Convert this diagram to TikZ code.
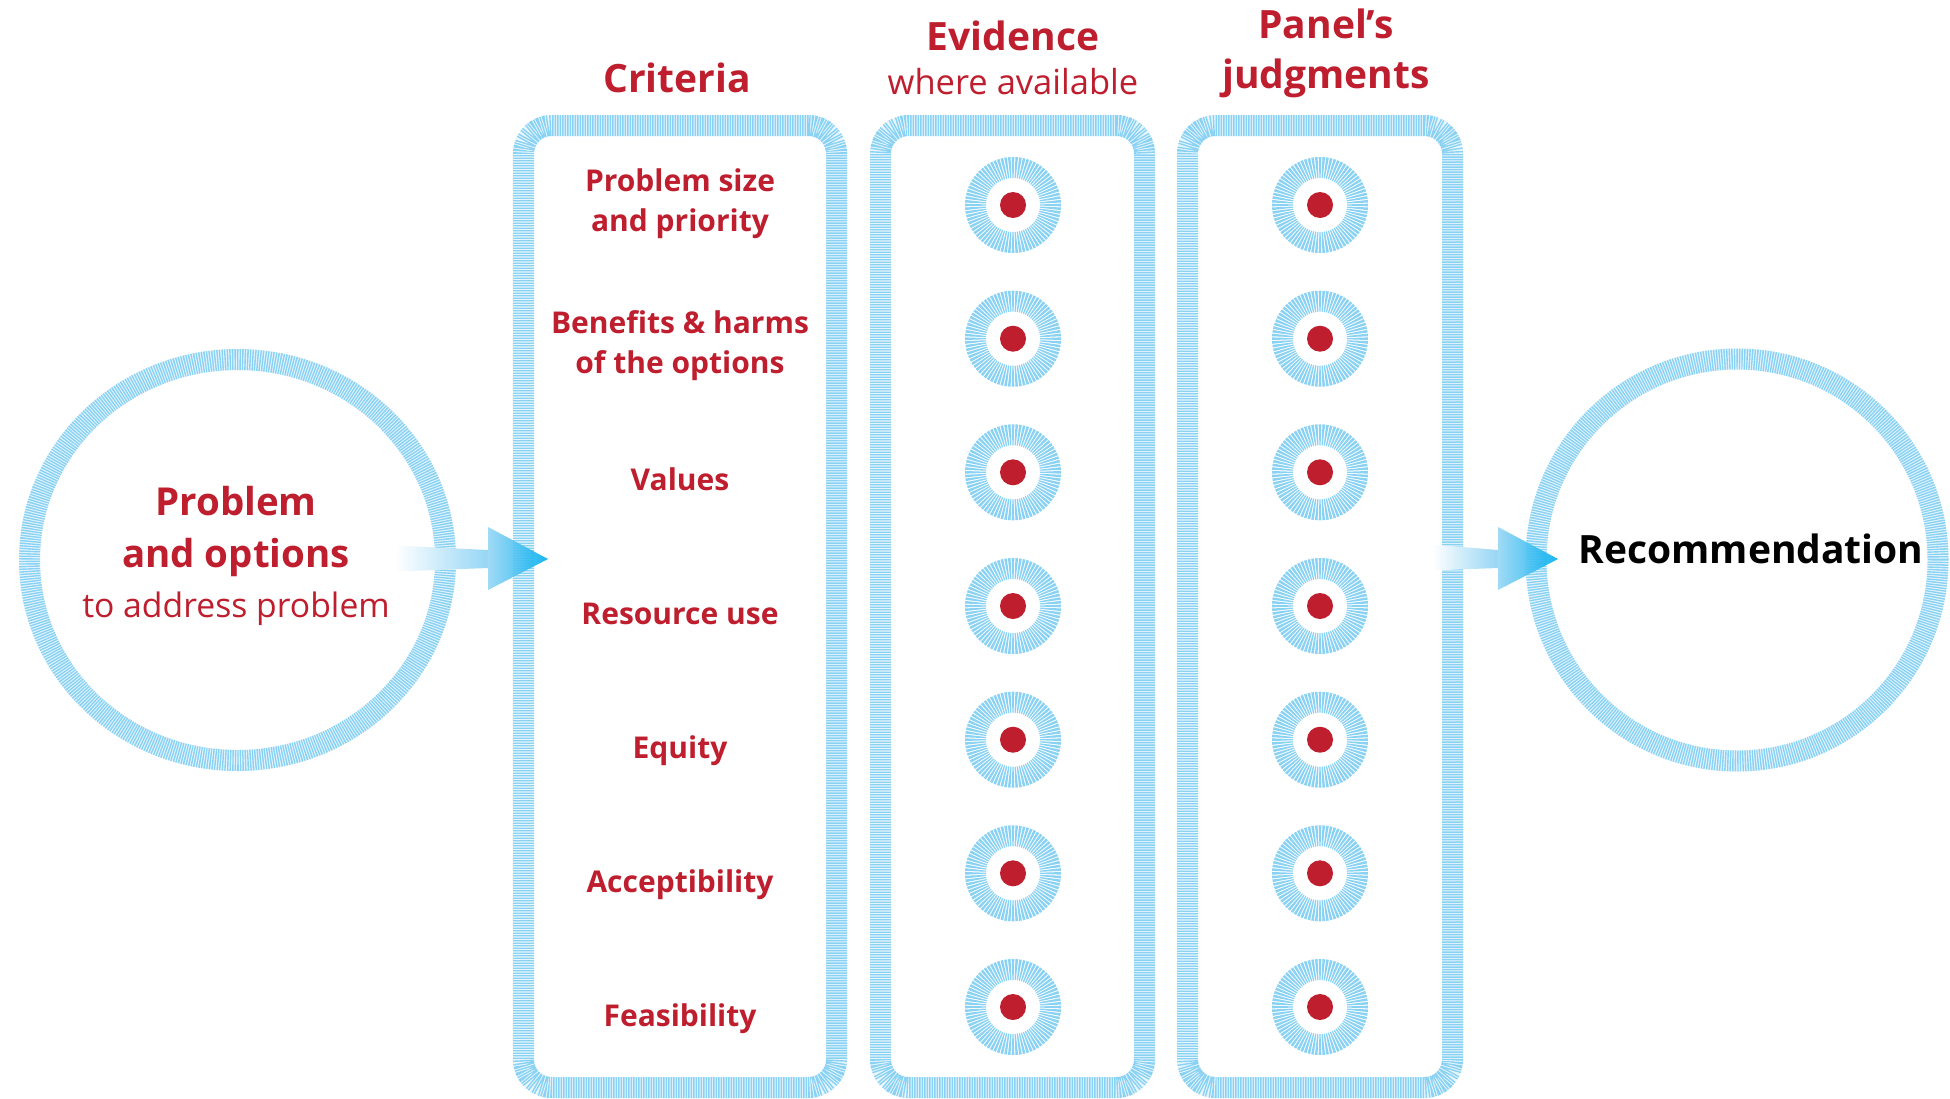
\documentclass[tikz,border=0pt]{standalone}
\usepackage{fontspec}
\setmainfont{Open Sans}
\usetikzlibrary{calc,shapes.geometric}
\definecolor{gred}{RGB}{190,30,45}
\definecolor{stripe}{RGB}{138,210,244}
\definecolor{stripebg}{RGB}{232,246,253}
\definecolor{arrowlight}{RGB}{150,214,245}
\definecolor{arrowdeep}{RGB}{0,174,239}
\tikzset{
  hatched/.style={draw=stripe, line width=21pt, dash pattern=on 1.4pt off 1.1pt,
    preaction={draw=stripebg, solid, line width=21pt}, inner sep=0pt, outer sep=0pt},
  colbox/.style={hatched, rectangle, rounded corners=28pt},
  critlabel/.style={text=gred, font=\fontsize{30}{36}\selectfont\bfseries, anchor=base},
  headlabel/.style={text=gred, font=\fontsize{39}{46}\selectfont\bfseries, anchor=base},
  sublabel/.style={text=gred, font=\fontsize{34.5}{42}\selectfont, anchor=base},
  reddot/.style={circle, fill=gred, minimum size=26pt, inner sep=0pt},
  burst/.pic={
    \foreach \a in {0,4.5,...,355.5}{
      \fill[stripe] ({\a-1.2}:27pt) -- ({\a-1.6}:48pt) -- ({\a+1.6}:48pt) -- ({\a+1.2}:27pt) -- cycle;
    }
  }
}
\begin{document}
\begin{tikzpicture}[x=1pt,y=-1pt]
\useasboundingbox[fill=white] (0,0) rectangle (1950,1098);

% column boxes
\node[colbox, minimum width=313pt, minimum height=962pt] (crit) at (680,606.5) {};
\node[colbox, minimum width=264pt, minimum height=962pt] (evid) at (1012.5,606.5) {};
\node[colbox, minimum width=265pt, minimum height=962pt] (panel) at (1320,606.5) {};

% big rings
\node[hatched, ellipse, minimum width=416pt, minimum height=401pt] (prob) at (237.5,560) {};
\node[hatched, circle, minimum size=402pt] (rec) at (1737,560) {};

% headings
\node[headlabel] (hcrit) at (677,92) {Criteria};
\node[headlabel] (hevid) at (1013,50) {Evidence};
\node[sublabel] (hevid2) at (1013,94) {where available};
\node[headlabel] (hpan) at (1326,38) {Panel’s};
\node[headlabel] (hpan2) at (1326,88) {judgments};

% criteria
\node[critlabel] (c1a) at (680,191) {Problem size};
\node[critlabel] (c1b) at (680,231) {and priority};
\node[critlabel] (c2a) at (680,333) {Benefits \& harms};
\node[critlabel] (c2b) at (680,373) {of the options};
\node[critlabel] (c3) at (680,490) {Values};
\node[critlabel] (c4) at (680,624) {Resource use};
\node[critlabel] (c5) at (680,758) {Equity};
\node[critlabel] (c6) at (680,892) {Acceptibility};
\node[critlabel] (c7) at (680,1026) {Feasibility};

% bursts with dots
\foreach \i/\y in {1/205,2/338.7,3/472.3,4/606,5/739.7,6/873.3,7/1007}{
  \pic at (1013,\y) {burst};
  \node[reddot] (ev\i) at (1013,\y) {};
  \pic at (1320,\y) {burst};
  \node[reddot] (pj\i) at (1320,\y) {};
}

% circle texts
\node[headlabel, font=\fontsize{38.5}{46}\selectfont\bfseries] (p1) at (236,515) {Problem};
\node[headlabel, font=\fontsize{38.5}{46}\selectfont\bfseries] (p2) at (236,567) {and options};
\node[sublabel, font=\fontsize{33.7}{42}\selectfont] (p3) at (236,617) {to address problem};
\node[headlabel, text=black] (r1) at (1751,563) {Recommendation};

% arrows
\coordinate (a1s) at (395,558.5);
\coordinate (a1t) at (548,559);
\coordinate (a2s) at (1432,557.5);
\coordinate (a2t) at (1558,559);
\foreach \s/\t in {a1s/a1t,a2s/a2t}{
  \shade[left color=white, right color=arrowlight]
    ($(\s)+(0,-13)$) -- ($(\t)+(-60,-9)$) -- ($(\t)+(-60,9)$) -- ($(\s)+(0,13)$) -- cycle;
  \shade[left color=arrowlight, right color=arrowdeep, opacity=0.9]
    ($(\t)+(-60,-32)$) -- (\t) -- ($(\t)+(-60,31)$) -- cycle;
}
\end{tikzpicture}
\end{document}
